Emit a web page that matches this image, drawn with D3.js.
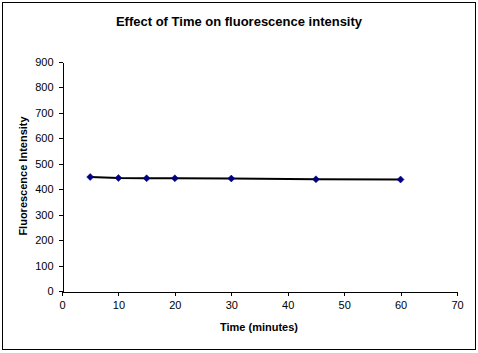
<!DOCTYPE html>
<html><head><meta charset="utf-8">
<script src="https://cdn.jsdelivr.net/npm/d3@7"></script>
<style>body{margin:0;background:#fff}svg{display:block}text{font-family:Arial,"Liberation Sans",sans-serif}</style>
</head><body>
<svg id="c" width="478" height="353"></svg>
<script>
const times = [5, 10, 15, 20, 30, 45, 60];
const intensity = [448, 444, 443, 443, 442, 439, 438];
const xTicks = [0, 10, 20, 30, 40, 50, 60, 70];
const yTicks = [0, 100, 200, 300, 400, 500, 600, 700, 800, 900];
const title = "Effect of Time on fluorescence intensity";
const xLabel = "Time (minutes)";
const yLabel = "Fluorescence Intensity";

const svg = d3.select("#c");
svg.append("rect").attr("x",2.5).attr("y",2.5).attr("width",473).attr("height",347)
  .attr("fill","#fff").attr("stroke","#000").attr("stroke-width",1);

const x = d3.scaleLinear().domain([0,70]).range([62,457]);
const y = d3.scaleLinear().domain([0,900]).range([291,62]);

const xa = svg.append("g").attr("transform","translate(0,291.5)")
  .call(d3.axisBottom(x).tickValues(xTicks).tickSize(4).tickSizeOuter(0).tickPadding(6));
const ya = svg.append("g").attr("transform","translate(62.5,0)")
  .call(d3.axisLeft(y).tickValues(yTicks).tickSize(4).tickSizeOuter(0).tickPadding(5));
[xa,ya].forEach(a=>{
  a.selectAll("path,line").attr("stroke","#000").attr("shape-rendering","crispEdges");
  a.selectAll("text").attr("font-size",11).attr("fill","#000").attr("font-family","Arial, Liberation Sans, sans-serif");
});

const data = times.map((t,i)=>({t, v: intensity[i]}));
svg.append("path").datum(data)
  .attr("fill","none").attr("stroke","#000").attr("stroke-width",2)
  .attr("d", d3.line().x(d=>x(d.t)).y(d=>y(d.v)));

svg.selectAll(".m").data(data).join("path")
  .attr("transform", d=>`translate(${x(d.t)},${y(d.v)})`)
  .attr("d","M0,-3.5L3.5,0L0,3.5L-3.5,0Z")
  .attr("fill","#000080").attr("stroke","#000080").attr("stroke-width",0.5);

svg.append("text").attr("x",239).attr("y",26).attr("text-anchor","middle")
  .attr("font-size",13).attr("font-weight","bold").text(title);
svg.append("text").attr("x",259).attr("y",331).attr("text-anchor","middle")
  .attr("font-size",11).attr("font-weight","bold").text(xLabel);
svg.append("text").attr("transform","translate(27,176) rotate(-90)").attr("text-anchor","middle")
  .attr("font-size",11).attr("font-weight","bold").text(yLabel);
</script>
</body></html>
